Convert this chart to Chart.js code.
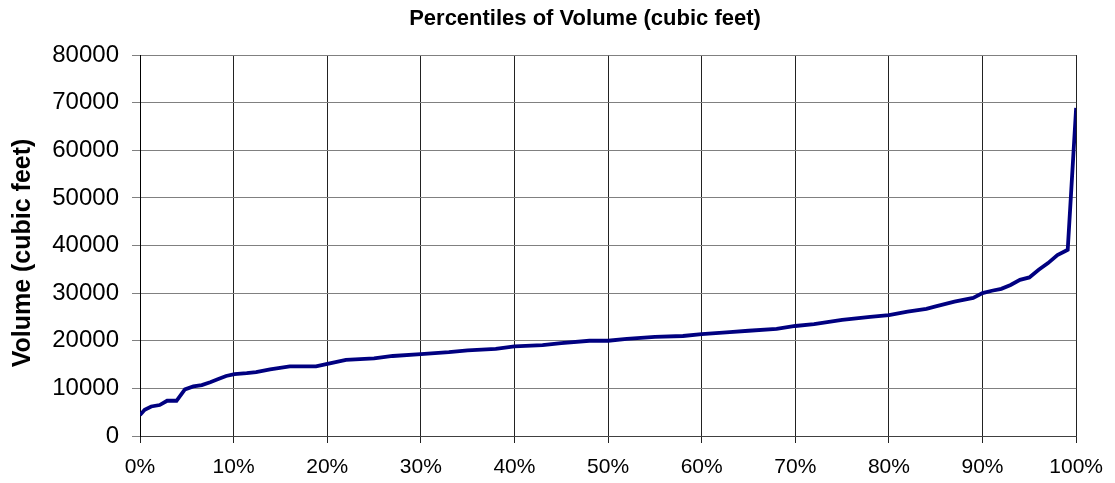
<!DOCTYPE html>
<html>
<head>
<meta charset="utf-8">
<script src="https://cdn.jsdelivr.net/npm/chart.js@4/dist/chart.umd.min.js"></script>
<style>
  html, body { margin: 0; padding: 0; background: #fff; }
  #wrap { width: 1115px; height: 483px; }
</style>
</head>
<body>
<div id="wrap"><canvas id="pctChart" width="1115" height="483"></canvas></div>
<script>
// percentile (%) and volume (cubic feet)
const percentiles = [0, 0.5, 1.2, 2.1, 2.9, 3.9, 4.8, 5.7, 6.6, 7.5, 8.3, 9.2, 10.1, 11.4, 12.4, 13.9, 16, 18.8, 19.9,
  22, 25, 27, 30, 33, 35, 38, 40, 43, 45, 48, 50, 52, 55, 58, 60, 63, 65, 68, 70, 72, 75, 78, 80, 82, 84, 85, 87, 89,
  90, 91, 92, 93, 94, 95, 96, 97, 98, 98.8, 99.1, 100];
const volumes = [4400, 5500, 6200, 6500, 7400, 7400, 9800, 10400, 10700, 11300, 11900, 12600, 13000, 13200, 13400, 14000, 14600, 14600, 15100,
  16000, 16300, 16800, 17200, 17600, 18000, 18300, 18800, 19100, 19500, 20000, 20000, 20400, 20800, 21000, 21400, 21800, 22100, 22500, 23100, 23500, 24400, 25000, 25400, 26100, 26700, 27200, 28200, 29000,
  30000, 30500, 30900, 31700, 32800, 33300, 34900, 36300, 38000, 38800, 39100, 68900];
const xTicks = [0, 10, 20, 30, 40, 50, 60, 70, 80, 90, 100];
const yTicks = [0, 10000, 20000, 30000, 40000, 50000, 60000, 70000, 80000];
const chartTitle = 'Percentiles of Volume (cubic feet)';
const yTitle = 'Volume (cubic feet)';

const points = percentiles.map((p, i) => ({ x: p, y: volumes[i] }));
const font = "'Liberation Sans', Arial, sans-serif";

// chart title and y axis title, placed where the original has them
const titlesPlugin = {
  id: 'titles',
  afterDraw(chart) {
    const c = chart.ctx;
    c.save();
    c.fillStyle = '#000';
    c.textAlign = 'center';
    c.textBaseline = 'middle';
    c.font = 'bold 22px ' + font;
    c.fillText(chartTitle, 585, 19);
    c.translate(23, 253);
    c.rotate(-Math.PI / 2);
    c.font = 'bold 25px ' + font;
    c.fillText(yTitle, 0, 0);
    c.restore();
  }
};

const ctx = document.getElementById('pctChart').getContext('2d');
const chart = new Chart(ctx, {
  type: 'line',
  data: {
    datasets: [{
      data: points,
      borderColor: '#000080',
      borderWidth: 3.8,
      pointRadius: 0,
      tension: 0,
      fill: false
    }]
  },
  options: {
    responsive: false,
    animation: false,
    layout: { padding: { left: 0, right: 37, top: 55, bottom: 0 } },
    plugins: {
      legend: { display: false },
      tooltip: { enabled: false },
      title: { display: false }
    },
    scales: {
      x: {
        type: 'linear',
        min: 0,
        max: 100,
        afterBuildTicks: s => { s.ticks = xTicks.map(v => ({ value: v })); },
        afterFit: s => { s.height = 47; },
        ticks: {
          color: '#000',
          font: { family: font, size: 21 },
          padding: 12,
          maxRotation: 0,
          callback: v => v + '%'
        },
        grid: { color: '#222', lineWidth: 1, tickLength: 7, drawTicks: true },
        border: { color: '#404040', width: 1 }
      },
      y: {
        min: 0,
        max: 80000,
        afterBuildTicks: s => { s.ticks = yTicks.map(v => ({ value: v })); },
        afterFit: s => { s.width = 140; },
        ticks: {
          color: '#000',
          font: { family: font, size: 24 },
          padding: 13,
          callback: v => String(v)
        },
        grid: { color: '#808080', lineWidth: 1, tickLength: 8, drawTicks: true },
        border: { color: '#000', width: 1 }
      }
    }
  },
  plugins: [titlesPlugin]
});
</script>
</body>
</html>
